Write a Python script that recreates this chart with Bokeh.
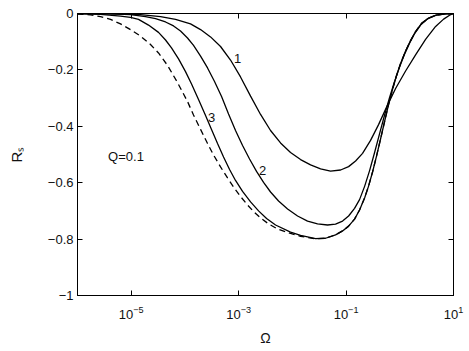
import numpy as np
from bokeh.plotting import figure
from bokeh.models import Range1d, FixedTicker, LogAxis, LinearAxis, ColumnDataSource
from bokeh.core.properties import value
from bokeh.embed import file_html
from bokeh.resources import INLINE

# ---- data (log10 of Omega, R_s) ----
lg_c1 = [-6.000, -5.385, -4.827, -4.454, -4.175, -3.896, -3.709, -3.523, -3.337, -3.151,
         -2.965, -2.778, -2.592, -2.406, -2.220, -2.034, -1.847, -1.661, -1.475, -1.289,
         -1.102, -0.953, -0.823, -0.693, -0.544, -0.395, -0.246, -0.078, 0.108, 0.294,
         0.480, 0.667, 0.816, 0.927, 1.000]
r_c1 = [0.000, -0.001, -0.004, -0.011, -0.021, -0.037, -0.057, -0.083, -0.117, -0.165,
        -0.225, -0.293, -0.358, -0.415, -0.459, -0.493, -0.518, -0.537, -0.551, -0.559,
        -0.555, -0.543, -0.523, -0.496, -0.450, -0.394, -0.332, -0.266, -0.204, -0.147,
        -0.092, -0.046, -0.020, -0.006, 0.000]

lg_c2 = [-6.000, -5.385, -5.013, -4.734, -4.547, -4.361, -4.212, -4.082, -3.952, -3.840,
         -3.709, -3.579, -3.449, -3.318, -3.188, -3.058, -2.927, -2.797, -2.667, -2.536,
         -2.406, -2.257, -2.089, -1.903, -1.717, -1.531, -1.345, -1.196, -1.065, -0.953,
         -0.842, -0.749, -0.655, -0.562, -0.469, -0.376, -0.283, -0.190, -0.097, -0.004,
         0.089, 0.182, 0.276, 0.387, 0.518, 0.667, 0.853, 1.000]
r_c2 = [0.000, -0.001, -0.004, -0.011, -0.018, -0.030, -0.044, -0.062, -0.087, -0.113,
        -0.151, -0.193, -0.241, -0.294, -0.356, -0.415, -0.468, -0.516, -0.560, -0.599,
        -0.633, -0.665, -0.693, -0.718, -0.736, -0.746, -0.750, -0.747, -0.736, -0.718,
        -0.691, -0.660, -0.613, -0.557, -0.493, -0.426, -0.360, -0.298, -0.241, -0.190,
        -0.144, -0.105, -0.071, -0.041, -0.019, -0.007, -0.001, 0.000]

lg_c3 = [-6.000, -5.572, -5.199, -5.013, -4.864, -4.678, -4.492, -4.361, -4.250, -4.119,
         -3.989, -3.877, -3.747, -3.616, -3.505, -3.393, -3.281, -3.169, -3.058, -2.927,
         -2.778, -2.629, -2.480, -2.313, -2.034, -1.847, -1.568, -1.382, -1.196, -1.065,
         -0.953, -0.842, -0.749, -0.655, -0.581, -0.507, -0.432, -0.358, -0.283, -0.209,
         -0.134, -0.060, 0.015, 0.108, 0.201, 0.294, 0.406, 0.536, 0.685, 0.872, 1.000]
r_c3 = [0.000, -0.003, -0.009, -0.014, -0.021, -0.041, -0.067, -0.094, -0.122, -0.161,
        -0.206, -0.250, -0.305, -0.362, -0.411, -0.461, -0.509, -0.553, -0.592, -0.631,
        -0.668, -0.700, -0.727, -0.750, -0.775, -0.787, -0.798, -0.797, -0.785, -0.771,
        -0.754, -0.729, -0.697, -0.654, -0.612, -0.562, -0.505, -0.445, -0.383, -0.323,
        -0.268, -0.220, -0.177, -0.133, -0.096, -0.064, -0.035, -0.016, -0.005, -0.001, 0.000]

lg_dash = [-6.000, -5.758, -5.572, -5.385, -5.199, -5.013, -4.827, -4.641, -4.492, -4.324,
           -4.138, -3.952, -3.840, -3.709, -3.579, -3.467, -3.337, -3.207, -3.095, -2.965,
           -2.834, -2.723, -2.592, -2.443, -2.276, -2.034, -1.847, -1.568, -1.382, -1.196,
           -1.065, -0.953, -0.842, -0.749, -0.655, -0.581, -0.507, -0.432, -0.358, -0.283,
           -0.209, -0.134, -0.060, 0.015, 0.108, 0.201, 0.294, 0.406, 0.536, 0.685, 0.872, 1.000]
r_dash = [-0.002, -0.005, -0.011, -0.021, -0.037, -0.057, -0.080, -0.110, -0.140, -0.184,
          -0.245, -0.312, -0.360, -0.411, -0.461, -0.502, -0.544, -0.583, -0.615, -0.649,
          -0.679, -0.702, -0.725, -0.746, -0.764, -0.780, -0.790, -0.799, -0.797, -0.785,
          -0.771, -0.754, -0.729, -0.697, -0.654, -0.612, -0.562, -0.505, -0.445, -0.383,
          -0.323, -0.268, -0.220, -0.177, -0.133, -0.096, -0.064, -0.035, -0.016, -0.005, -0.001, 0.000]

x_ticks = [1e-5, 1e-3, 1e-1, 1e1]
y_ticks = [-1, -0.8, -0.6, -0.4, -0.2, 0]
y_tick_labels = ["\u22121", "\u22120.8", "\u22120.6", "\u22120.4", "\u22120.2", "0"]

ann_text = ["1", "2", "3", "Q=0.1"]
ann_omega = [9.55e-4, 2.79e-3, 3.13e-4, 8.0e-6]
ann_r = [-0.158, -0.557, -0.369, -0.508]

FONT = "Liberation Sans"

p = figure(x_axis_type="log", x_range=Range1d(1e-6, 1e1), y_range=Range1d(-1, 0),
           frame_width=376, frame_height=282,
           min_border_left=77, min_border_right=16, min_border_top=13, min_border_bottom=56,
           output_backend="svg", toolbar_location=None,
           background_fill_color="white", border_fill_color="white")
p.xgrid.visible = False
p.ygrid.visible = False
p.outline_line_color = "black"
p.outline_line_width = 1

def style_axis(ax, show_labels=True):
    ax.axis_line_color = "black"
    ax.axis_line_width = 1
    ax.major_tick_in = 5
    ax.major_tick_out = 0
    ax.major_tick_line_color = "black"
    ax.minor_tick_line_color = None
    ax.major_label_text_font = FONT
    ax.major_label_text_font_size = "13px" if show_labels else "0px"
    ax.major_label_text_color = "#111111" if show_labels else None

# bottom x axis
xa = p.xaxis[0]
xa.ticker = FixedTicker(ticks=x_ticks)
style_axis(xa)
xa.major_label_standoff = 10
xa.axis_label = "\u03a9"
xa.axis_label_text_font = FONT
xa.axis_label_text_font_size = "14px"
xa.axis_label_text_font_style = "normal"
xa.axis_label_text_color = "#111111"
xa.axis_label_standoff = 8

# left y axis
ya = p.yaxis[0]
ya.ticker = FixedTicker(ticks=y_ticks)
ya.major_label_overrides = {t: s for t, s in zip(y_ticks, y_tick_labels)}
style_axis(ya)
ya.major_label_standoff = 4
ya.axis_label = "R\u209b"
ya.axis_label_text_font = FONT
ya.axis_label_text_font_size = "15px"
ya.axis_label_text_font_style = "normal"
ya.axis_label_text_color = "#111111"
ya.axis_label_standoff = 20

# top and right axes (ticks only, forming the box)
top = LogAxis(ticker=FixedTicker(ticks=x_ticks))
style_axis(top, show_labels=False)
top.major_label_standoff = 0
p.add_layout(top, "above")
right = LinearAxis(ticker=FixedTicker(ticks=y_ticks))
style_axis(right, show_labels=False)
right.major_label_standoff = 0
p.add_layout(right, "right")

# curves
p.line(10 ** np.array(lg_dash), r_dash, line_color="black", line_width=1.3, line_dash="6 4")
p.line(10 ** np.array(lg_c3), r_c3, line_color="black", line_width=1.3)
p.line(10 ** np.array(lg_c2), r_c2, line_color="black", line_width=1.3)
p.line(10 ** np.array(lg_c1), r_c1, line_color="black", line_width=1.3)

# annotations
src = ColumnDataSource(dict(x=ann_omega, y=ann_r, t=ann_text))
p.text(x="x", y="y", text="t", source=src, text_font=value(FONT), text_font_size="13px",
       text_align="center", text_baseline="middle", text_color="#111111")

open("out.html", "w").write(file_html(p, INLINE))
